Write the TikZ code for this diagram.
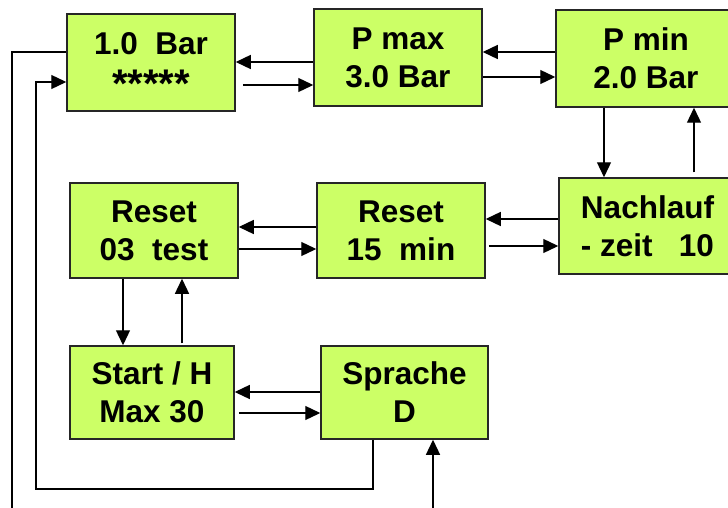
\documentclass[tikz,border=0pt]{standalone}
\usepackage{fontspec}
\setmainfont{Liberation Sans}
\usetikzlibrary{arrows.meta,calc}
\definecolor{boxgreen}{RGB}{204,255,102}
\begin{document}
\begin{tikzpicture}[x=1pt,y=-1pt,
  box/.style={draw=black!85, line width=1.5pt, fill=boxgreen, inner sep=0pt,
    align=center, font=\bfseries\fontsize{31.5}{38}\selectfont},
  con/.style={line width=1.3pt, black},
  arr/.style={con, -{Triangle[length=15pt,width=14pt]}}]
\useasboundingbox (0,0) rectangle (728,508);
\clip (0,0) rectangle (728,508);
% boxes
\node[box, minimum width=168pt, minimum height=97pt] (b1) at (151,62.5) {1.0\ \ Bar\\\vphantom{3.0 Bar}\smash{\raisebox{-5pt}{\fontsize{40}{38}\selectfont *****}}};
\node[box, minimum width=168pt, minimum height=97pt] (b2) at (398,57.5) {P max\\3.0 Bar};
\node[box, minimum width=180pt, minimum height=97pt] (b3) at (646,58.5) {P min\\2.0 Bar};
\node[box, minimum width=177pt, minimum height=96pt] (b4) at (647.5,226) {Nachlauf\\- zeit\ \ \ 10};
\node[box, minimum width=168pt, minimum height=95pt] (b5) at (401,230.5) {Reset\\15\ \ min};
\node[box, minimum width=168pt, minimum height=95pt] (b6) at (154,230.5) {Reset\\03\ \ test};
\node[box, minimum width=164pt, minimum height=93pt] (b7) at (152,392.5) {Start / H\\Max 30};
\node[box, minimum width=167pt, minimum height=93pt] (b8) at (404.5,392.5) {Sprache\\D};
% helper coordinates for connector rows/columns
\coordinate (r1a) at (0,62);  \coordinate (r1b) at (0,85);
\coordinate (r2a) at (0,52);  \coordinate (r2b) at (0,77);
\coordinate (r3a) at (0,219); \coordinate (r3b) at (0,246);
\coordinate (r4a) at (0,227); \coordinate (r4b) at (0,249);
\coordinate (r5a) at (0,392); \coordinate (r5b) at (0,413);
\coordinate (v1) at (604,0); \coordinate (v2) at (694,0);
\coordinate (v3) at (123,0); \coordinate (v4) at (182,0);
% horizontal pairs
\draw[arr] (b2.west |- r1a) -- (b1.east |- r1a);
\draw[arr, shorten <=7pt] (b1.east |- r1b) -- (b2.west |- r1b);
\draw[arr] (b3.west |- r2a) -- (b2.east |- r2a);
\draw[arr] (b2.east |- r2b) -- (b3.west |- r2b);
\draw[arr] (b4.west |- r3a) -- (b5.east |- r3a);
\draw[arr, shorten <=3pt] (b5.east |- r3b) -- (b4.west |- r3b);
\draw[arr] (b5.west |- r4a) -- (b6.east |- r4a);
\draw[arr] (b6.east |- r4b) -- (b5.west |- r4b);
\draw[arr] (b8.west |- r5a) -- (b7.east |- r5a);
\draw[arr, shorten <=4pt] (b7.east |- r5b) -- (b8.west |- r5b);
% vertical pairs
\draw[arr] (b3.south -| v1) -- (b4.north -| v1);
\draw[arr, shorten <=5pt] (b4.north -| v2) -- (b3.south -| v2);
\draw[arr] (b6.south -| v3) -- (b7.north -| v3);
\draw[arr, shorten <=2pt] (b7.north -| v4) -- (b6.south -| v4);
% loop from Sprache back to 1.0 Bar
\coordinate (l1) at (373,489);
\coordinate (l2) at (36,489);
\coordinate (l3) at (0,82);
\draw[arr] (b8.south -| l1) -- (l1) -- (l2) |- (b1.west |- l3);
% outer line leaving 1.0 Bar
\coordinate (o1) at (0,52);
\coordinate (o2) at (12,512);
\draw[con] (b1.west |- o1) -| (o2);
% arrow coming up into Sprache
\coordinate (u1) at (433,512);
\draw[arr] (u1) -- (u1 |- b8.south);
\end{tikzpicture}
\end{document}
